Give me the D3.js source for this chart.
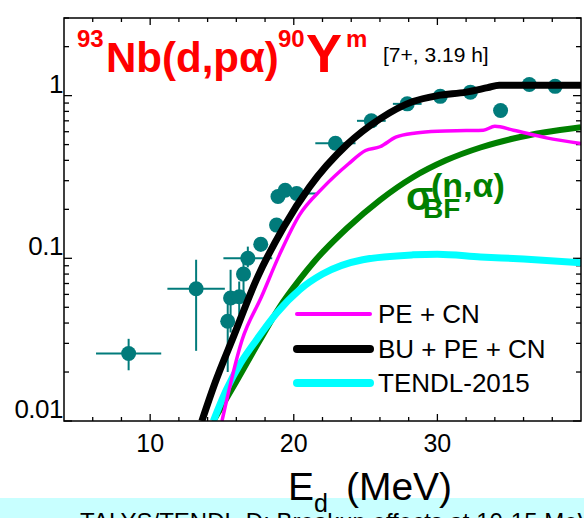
<!DOCTYPE html>
<html>
<head>
<meta charset="utf-8">
<script src="https://cdn.jsdelivr.net/npm/d3@7"></script>
<style>
  html, body { margin: 0; padding: 0; background: #fff; }
  svg { display: block; font-family: "Liberation Sans", Arial, sans-serif; }
</style>
</head>
<body>
<svg id="chart" width="584" height="518"></svg>
<script>
// experimental points
const expE     = [8.5, 13.2, 15.4, 15.6, 16.2, 16.5, 16.8, 17.7, 18.8, 18.9, 19.4, 20.2, 22.9, 25.4, 27.9, 30.2, 32.3, 34.4, 36.4, 38.2];
const expSigma = [0.026, 0.065, 0.041, 0.057, 0.058, 0.08, 0.10, 0.122, 0.16, 0.24, 0.262, 0.25, 0.51, 0.70, 0.89, 0.99, 1.05, 0.81, 1.17, 1.14];
const expEErr  = [2.27, 2.0, 0, 0, 0, 0, 1.7, 0, 0, 0, 0, 1.4, 1.4, 1.0, 1.0, 0, 0, 0, 0, 0];
const expLo    = [0.0205, 0.027, 0.02, 0.035, 0.045, 0.06, 0.088, 0.11, 0.15, 0.22, 0.25, 0.24, 0.49, 0.68, 0.87, 0.97, 1.03, 0.79, 1.15, 1.12];
const expHi    = [0.032, 0.098, 0.062, 0.085, 0.072, 0.105, 0.118, 0.134, 0.17, 0.26, 0.275, 0.26, 0.53, 0.72, 0.91, 1.01, 1.07, 0.83, 1.19, 1.16];

// BU + PE + CN
const buE = [13.6, 14.5, 15.8, 17.4, 19.3, 21.1, 23.7, 26.0, 28.3, 30.0, 32.0, 33.5, 34.3, 36, 38, 40];
const buS = [0.01, 0.017, 0.033, 0.074, 0.156, 0.275, 0.50, 0.72, 0.92, 1.0, 1.05, 1.12, 1.16, 1.16, 1.16, 1.16];
// PE + CN
const peE = [15.0, 16.4, 17.75, 19.0, 20.4, 22.0, 23.8, 25.0, 26.0, 27.1, 28.5, 30, 32, 33.2, 34.0, 35.3, 37.6, 40];
const peS = [0.01, 0.0315, 0.058, 0.105, 0.185, 0.27, 0.38, 0.46, 0.485, 0.555, 0.59, 0.605, 0.61, 0.613, 0.648, 0.613, 0.55, 0.508];
// sigma_BF(n,alpha)
const bfE = [14.4, 15.8, 17.65, 19.0, 20.4, 21.4, 23.7, 26, 28.3, 30.6, 33, 35.3, 37.5, 40];
const bfS = [0.01, 0.0163, 0.0315, 0.05, 0.074, 0.095, 0.153, 0.228, 0.315, 0.40, 0.48, 0.545, 0.595, 0.64];
// TENDL-2015
const tdE = [14.4, 15.3, 16.3, 17.4, 18.8, 20.4, 22, 24.8, 28.3, 30, 33, 36, 40];
const tdS = [0.01, 0.0155, 0.0227, 0.0315, 0.046, 0.064, 0.08, 0.098, 0.105, 0.106, 0.102, 0.099, 0.094];

const xTicks = [10, 20, 30];
const yTicks = [0.01, 0.1, 1];
const yTickLabels = ["0.01", "0.1", "1"];
const legendNames = ["PE + CN", "BU + PE + CN", "TENDL-2015"];

const svg = d3.select("#chart");
const pLeft = 64, pRight = 581, pTop = 18, pBottom = 421;

const x = d3.scaleLinear().domain([4, 40]).range([pLeft, pRight]);
const y = d3.scaleLog().domain([0.01, 3]).range([pBottom, pTop]);

const teal = "#017b7b";

svg.append("defs").append("clipPath").attr("id", "plotClip")
    .append("rect")
    .attr("x", pLeft).attr("y", pTop)
    .attr("width", pRight - pLeft).attr("height", pBottom - pTop);

// bottom banner (cut off in the original too)
svg.append("rect")
    .attr("x", 0).attr("y", 498)
    .attr("width", 584).attr("height", 20)
    .attr("fill", "#c8ffff");
svg.append("text")
    .attr("x", 80).attr("y", 530)
    .attr("font-size", 24)
    .text("TALYS/TENDL-D: Breakup effects at 10-15 MeV");

// ticks (inward, all four sides)
const minorX = d3.range(6, 40, 2).filter(v => v % 10 !== 0);
const minorY = [];
[0.01, 0.1, 1].forEach(d => d3.range(2, 10).forEach(k => { if (d * k <= 3) minorY.push(d * k); }));

const tk = svg.append("g").attr("stroke", "#000").attr("stroke-width", 1.3);
xTicks.forEach(v => {
    tk.append("line").attr("x1", x(v)).attr("x2", x(v)).attr("y1", pBottom).attr("y2", pBottom - 7);
    tk.append("line").attr("x1", x(v)).attr("x2", x(v)).attr("y1", pTop).attr("y2", pTop + 7);
});
minorX.forEach(v => {
    tk.append("line").attr("x1", x(v)).attr("x2", x(v)).attr("y1", pBottom).attr("y2", pBottom - 4);
    tk.append("line").attr("x1", x(v)).attr("x2", x(v)).attr("y1", pTop).attr("y2", pTop + 4);
});
yTicks.forEach(v => {
    tk.append("line").attr("x1", pLeft).attr("x2", pLeft + 8).attr("y1", y(v)).attr("y2", y(v));
    tk.append("line").attr("x1", pRight).attr("x2", pRight - 8).attr("y1", y(v)).attr("y2", y(v));
});
minorY.forEach(v => {
    tk.append("line").attr("x1", pLeft).attr("x2", pLeft + 5).attr("y1", y(v)).attr("y2", y(v));
    tk.append("line").attr("x1", pRight).attr("x2", pRight - 5).attr("y1", y(v)).attr("y2", y(v));
});

// tick labels
svg.append("g").selectAll("text").data(xTicks).enter().append("text")
    .attr("x", d => x(d)).attr("y", 452)
    .attr("text-anchor", "middle").attr("font-size", 25)
    .text(d => d);
svg.append("g").selectAll("text").data(yTicks).enter().append("text")
    .attr("x", 63).attr("y", d => y(d) - 3)
    .attr("text-anchor", "end").attr("font-size", 26)
    .attr("letter-spacing", -0.5)
    .text((d, i) => yTickLabels[i]);

// axis title
const xt = svg.append("text").attr("x", 288).attr("y", 500).attr("font-size", 39);
xt.append("tspan").text("E");
xt.append("tspan").attr("font-size", 25).attr("dy", 12).text("d");
xt.append("tspan").attr("dy", -12).attr("dx", 18).text("(MeV)");

// data points
const pts = expE.map((e, i) => ({ e, s: expSigma[i], ex: expEErr[i], lo: expLo[i], hi: expHi[i] }));
const gPts = svg.append("g").attr("clip-path", "url(#plotClip)");
gPts.selectAll("line.h").data(pts.filter(d => d.ex > 0)).enter().append("line")
    .attr("x1", d => x(d.e - d.ex)).attr("x2", d => x(d.e + d.ex))
    .attr("y1", d => y(d.s)).attr("y2", d => y(d.s))
    .attr("stroke", teal).attr("stroke-width", 2);
gPts.selectAll("line.v").data(pts).enter().append("line")
    .attr("x1", d => x(d.e)).attr("x2", d => x(d.e))
    .attr("y1", d => y(d.lo)).attr("y2", d => y(d.hi))
    .attr("stroke", teal).attr("stroke-width", 2);
gPts.selectAll("circle").data(pts).enter().append("circle")
    .attr("cx", d => x(d.e)).attr("cy", d => y(d.s))
    .attr("r", 7.5).attr("fill", teal);

// curves
const line = d3.line().x(d => x(d[0])).y(d => y(d[1])).curve(d3.curveMonotoneX);
const curves = [
    { E: bfE, S: bfS, color: "#008000", w: 6 },
    { E: tdE, S: tdS, color: "#00ffff", w: 7 },
    { E: peE, S: peS, color: "#ff00ff", w: 3.5 },
    { E: buE, S: buS, color: "#000000", w: 7 }
];
const gCurves = svg.append("g").attr("clip-path", "url(#plotClip)");
curves.forEach(c => {
    gCurves.append("path")
        .datum(c.E.map((e, i) => [e, c.S[i]]))
        .attr("d", line)
        .attr("fill", "none")
        .attr("stroke", c.color)
        .attr("stroke-width", c.w)
        .attr("stroke-linejoin", "round");
});

// frame
svg.append("rect")
    .attr("x", pLeft).attr("y", pTop)
    .attr("width", pRight - pLeft).attr("height", pBottom - pTop)
    .attr("fill", "none").attr("stroke", "#000").attr("stroke-width", 1.5);

// legend
const legendColors = ["#ff00ff", "#000000", "#00ffff"];
const legendWidths = [4, 8, 8];
const legendY = [314, 349, 383];
legendNames.forEach((name, i) => {
    svg.append("line")
        .attr("x1", 297).attr("x2", 370)
        .attr("y1", legendY[i]).attr("y2", legendY[i])
        .attr("stroke", legendColors[i]).attr("stroke-width", legendWidths[i])
        .attr("stroke-linecap", "round");
    svg.append("text")
        .attr("x", 378).attr("y", legendY[i] + 9)
        .attr("font-size", 26)
        .text(name);
});

// title
const red = "#ff0000";
svg.append("text").attr("x", 77).attr("y", 47).attr("font-size", 24).attr("font-weight", "bold").attr("fill", red).text("93");
svg.append("text").attr("x", 106).attr("y", 72).attr("font-size", 42).attr("font-weight", "bold").attr("fill", red).text("Nb(d,pα)");
svg.append("text").attr("x", 278).attr("y", 47).attr("font-size", 24).attr("font-weight", "bold").attr("fill", red).text("90");
svg.append("text").attr("x", 306).attr("y", 72).attr("font-size", 54).attr("font-weight", "bold").attr("fill", red).text("Y");
svg.append("text").attr("x", 346).attr("y", 47).attr("font-size", 24).attr("font-weight", "bold").attr("fill", red).text("m");
svg.append("text").attr("x", 383).attr("y", 62).attr("font-size", 21).text("[7+, 3.19 h]");

// sigma_BF(n,alpha) label
const green = "#008000";
svg.append("text").attr("x", 406).attr("y", 210).attr("font-size", 40).attr("font-weight", "bold").attr("fill", green).text("σ");
svg.append("text").attr("x", 423).attr("y", 218).attr("font-size", 28).attr("font-weight", "bold").attr("fill", green).text("BF");
svg.append("text").attr("x", 431).attr("y", 197).attr("font-size", 34).attr("font-weight", "bold").attr("fill", green).text("(n,α)");
</script>
</body>
</html>
